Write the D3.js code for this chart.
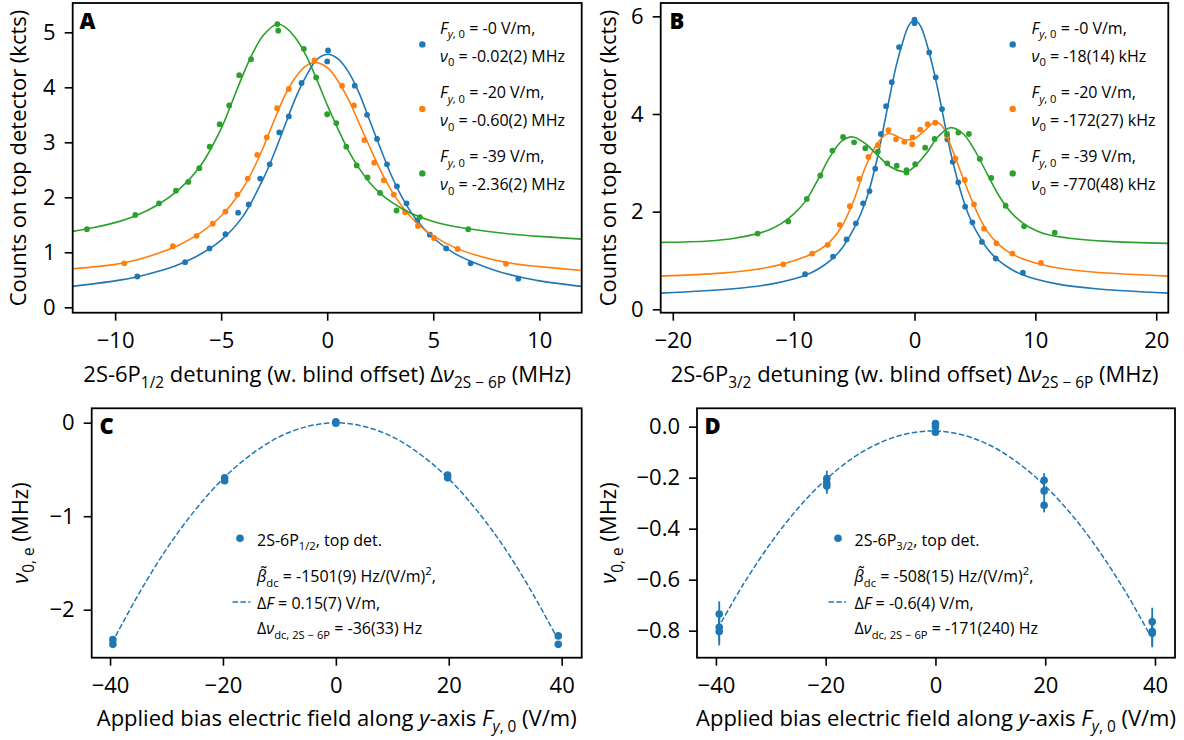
<!DOCTYPE html>
<html>
<head>
<meta charset="utf-8">
<script src="https://cdn.jsdelivr.net/npm/d3@7"></script>
<style>
  html, body { margin: 0; padding: 0; background: #fff; }
  svg text { font-family: "Open Sans", "Noto Sans", sans-serif; fill: #000; }
</style>
</head>
<body>
<svg id="fig" width="1184" height="740"></svg>
<script>
// ---------------- data ----------------
// Panel A: 2S-6P1/2 line scans (detuning in MHz, counts in kcts) at three bias fields
const scanA0X  = [-8.95, -6.70, -5.55, -4.80, -4.20, -3.70, -3.16, -2.71, -2.26, -1.81, -1.21, 0.00, 0.04, 1.30, 1.88, 2.35, 2.82, 3.29, 3.74, 4.25, 4.84, 5.61, 6.76, 9.01];
const scanA0Y  = [0.56, 0.82, 1.07, 1.33, 1.72, 1.87, 2.34, 2.60, 3.18, 3.47, 4.08, 4.47, 4.67, 4.03, 3.50, 3.06, 2.60, 2.20, 1.89, 1.58, 1.32, 1.07, 0.80, 0.52];
const scanA20X = [-9.57, -7.28, -6.16, -5.40, -4.80, -4.24, -3.75, -3.30, -2.85, -2.36, -1.81, -0.60, 0.70, 1.26, 1.75, 2.22, 2.67, 3.14, 3.67, 4.28, 5.04, 6.15, 8.43];
const scanA20Y = [0.80, 1.11, 1.30, 1.52, 1.74, 2.05, 2.34, 2.77, 3.09, 3.62, 3.97, 4.49, 4.03, 3.67, 3.04, 2.63, 2.31, 2.05, 1.73, 1.48, 1.26, 1.06, 0.79];
const scanA39X = [-11.33, -9.05, -7.93, -7.13, -6.55, -6.03, -5.54, -5.07, -4.62, -4.15, -3.59, -2.35, -2.31, -1.10, -0.52, 0.00, 0.43, 0.90, 1.39, 1.90, 2.49, 3.27, 4.37, 6.65];
const scanA39Y = [1.42, 1.68, 1.89, 2.12, 2.28, 2.53, 2.92, 3.33, 3.67, 4.22, 4.51, 5.15, 5.03, 4.70, 4.18, 3.51, 3.35, 2.92, 2.58, 2.36, 2.08, 1.76, 1.64, 1.42];

// Panel A: fitted line shapes
const fitA0X  = [-12, -10, -9, -8, -7, -6, -5, -4, -3, -2.5, -2, -1.5, -1, -0.5, 0, 0.5, 1, 1.5, 2, 2.5, 3, 3.5, 4, 4.5, 5, 6, 7, 8, 9, 10, 12];
const fitA0Y  = [0.38, 0.48, 0.55, 0.65, 0.78, 0.96, 1.22, 1.64, 2.35, 2.80, 3.30, 3.80, 4.20, 4.50, 4.60, 4.52, 4.28, 3.90, 3.40, 2.90, 2.42, 2.02, 1.70, 1.46, 1.26, 0.98, 0.80, 0.66, 0.56, 0.48, 0.38];
const fitA20X = [-12, -10, -9, -8, -7, -6, -5, -4, -3.5, -3, -2.5, -2, -1.5, -1, -0.6, 0, 0.5, 1, 1.5, 2, 2.5, 3, 3.5, 4, 4.5, 5, 6, 7, 8, 9, 10, 12];
const fitA20Y = [0.70, 0.78, 0.86, 0.98, 1.13, 1.35, 1.66, 2.15, 2.50, 2.92, 3.40, 3.85, 4.18, 4.39, 4.45, 4.36, 4.12, 3.78, 3.35, 2.92, 2.50, 2.14, 1.85, 1.62, 1.44, 1.30, 1.09, 0.95, 0.85, 0.78, 0.74, 0.67];
const fitA39X = [-12, -11, -10, -9, -8, -7, -6, -5, -4.5, -4, -3.5, -3, -2.35, -2, -1.5, -1, -0.5, 0, 0.5, 1, 1.5, 2, 2.5, 3, 3.5, 4, 5, 6, 7, 8, 9, 10, 12];
const fitA39Y = [1.38, 1.45, 1.54, 1.67, 1.86, 2.14, 2.56, 3.25, 3.72, 4.20, 4.63, 4.95, 5.15, 5.10, 4.90, 4.58, 4.15, 3.68, 3.25, 2.85, 2.53, 2.27, 2.07, 1.92, 1.80, 1.70, 1.56, 1.47, 1.41, 1.36, 1.32, 1.29, 1.24];

// Panel B: 2S-6P3/2 line scans
const scanB0X  = [-9.05, -6.74, -5.62, -4.85, -4.25, -3.72, -3.25, -2.78, -2.35, -1.88, -1.28, 0.00, 0.00, 1.22, 1.75, 2.28, 2.72, 3.16, 3.63, 4.19, 4.79, 5.58, 6.72, 8.97];
const scanB0Y  = [0.72, 1.08, 1.43, 1.76, 2.17, 2.42, 2.88, 3.59, 4.16, 4.65, 5.37, 5.93, 5.86, 5.26, 4.75, 4.10, 3.48, 3.02, 2.60, 2.10, 1.78, 1.38, 1.04, 0.75];
const scanB20X = [-10.86, -8.47, -7.18, -6.18, -5.35, -4.57, -3.82, -3.03, -2.16, -1.53, -0.84, -0.19, -0.16, 0.47, 1.09, 1.72, 2.70, 3.38, 4.16, 4.92, 5.75, 6.78, 8.10, 10.46];
const scanB20Y = [0.92, 1.14, 1.32, 1.73, 2.11, 2.67, 3.12, 3.36, 3.67, 3.48, 3.43, 3.38, 3.52, 3.68, 3.79, 3.82, 3.55, 3.09, 2.65, 2.15, 1.65, 1.35, 1.14, 0.95];
const scanB39X = [-12.98, -10.45, -8.91, -7.79, -6.79, -5.91, -5.00, -4.07, -3.03, -2.25, -1.47, -0.66, -0.66, 0.06, 0.88, 1.66, 2.69, 3.63, 4.50, 5.41, 6.35, 7.54, 9.07, 11.60];
const scanB39Y = [1.55, 1.80, 2.26, 2.74, 3.25, 3.53, 3.42, 3.30, 3.23, 2.99, 2.94, 2.80, 2.85, 2.97, 3.31, 3.49, 3.59, 3.62, 3.59, 3.08, 2.69, 2.12, 1.70, 1.57];

// Panel B: fitted line shapes
const fitB0X  = [-21, -15, -12, -10, -9, -8, -7, -6, -5, -4, -3, -2.5, -2, -1.5, -1, -0.5, 0, 0.5, 1, 1.5, 2, 2.5, 3, 3.5, 4, 4.5, 5, 6, 7, 8, 9, 10, 12, 15, 21];
const fitB0Y  = [0.33, 0.42, 0.51, 0.62, 0.70, 0.82, 0.99, 1.25, 1.66, 2.24, 3.18, 3.80, 4.42, 5.00, 5.45, 5.80, 5.93, 5.80, 5.45, 4.98, 4.42, 3.80, 3.20, 2.70, 2.27, 1.92, 1.65, 1.25, 0.99, 0.82, 0.70, 0.62, 0.51, 0.42, 0.33];
const fitB20X = [-21, -16, -13, -11, -9, -8, -7, -6, -5, -4, -3, -2.2, -1.5, -0.8, 0, 0.8, 1.7, 2.3, 3, 4, 5, 6, 7, 8, 9, 10, 12, 15, 21];
const fitB20Y = [0.68, 0.74, 0.82, 0.92, 1.08, 1.20, 1.38, 1.70, 2.25, 2.95, 3.42, 3.60, 3.55, 3.47, 3.50, 3.65, 3.83, 3.75, 3.35, 2.70, 2.08, 1.60, 1.32, 1.14, 1.03, 0.95, 0.84, 0.76, 0.68];
const fitB39X = [-21, -17, -15, -13, -12, -11, -10, -9, -8, -7, -6, -5.1, -4, -3, -2, -1, -0.5, 0, 1, 2, 3, 4, 5, 6, 7, 8, 9, 10, 11, 13, 16, 21];
const fitB39Y = [1.37, 1.40, 1.45, 1.55, 1.63, 1.76, 1.95, 2.22, 2.65, 3.12, 3.45, 3.53, 3.38, 3.14, 2.92, 2.82, 2.83, 2.92, 3.20, 3.55, 3.72, 3.60, 3.25, 2.78, 2.32, 1.98, 1.76, 1.62, 1.53, 1.45, 1.39, 1.35];

// Legend values for the line scans
const biasLabels   = ["-0", "-20", "-39"];
const centersA     = ["-0.02(2) MHz", "-0.60(2) MHz", "-2.36(2) MHz"];
const centersB     = ["-18(14) kHz", "-172(27) kHz", "-770(48) kHz"];

// Panel C: fitted line centers vs applied field, 2S-6P1/2
const fieldC = [-39.5, -39.5, -19.7, -19.7, 0.0, 0.0, 19.8, 19.8, 39.4, 39.4];
const shiftC = [-2.32, -2.37, -0.59, -0.62, 0.01, -0.005, -0.56, -0.59, -2.28, -2.37];
const errC   = [0.02, 0.02, 0.015, 0.015, 0.01, 0.01, 0.015, 0.015, 0.02, 0.02];
const fitCX  = [-39, -35, -30, -25, -20, -15, -10, -5, 0, 5, 10, 15, 20, 25, 30, 35, 39];
const fitCY  = [-2.28, -1.84, -1.35, -0.94, -0.60, -0.34, -0.15, -0.04, 0.00, -0.04, -0.15, -0.34, -0.60, -0.94, -1.35, -1.84, -2.28];

// Panel D: fitted line centers vs applied field, 2S-6P3/2
const fieldD = [-39.4, -39.4, -39.4, -19.8, -19.8, -19.8, 0.0, 0.0, 0.0, 19.8, 19.8, 19.8, 39.5, 39.5, 39.5];
const shiftD = [-0.735, -0.787, -0.803, -0.203, -0.222, -0.233, 0.012, 0.000, -0.022, -0.210, -0.252, -0.308, -0.765, -0.803, -0.810];
const errD   = [0.050, 0.055, 0.055, 0.030, 0.030, 0.030, 0.012, 0.012, 0.012, 0.028, 0.028, 0.028, 0.055, 0.055, 0.055];
const fitDX  = [-39, -35, -30, -25, -20, -15, -10, -5, 0, 5, 10, 15, 20, 25, 30, 35, 39];
const fitDY  = [-0.766, -0.618, -0.456, -0.319, -0.208, -0.122, -0.062, -0.027, -0.017, -0.033, -0.074, -0.141, -0.233, -0.350, -0.493, -0.661, -0.814];

// Tick values
const ticksAx = [-10, -5, 0, 5, 10];
const ticksAy = [0, 1, 2, 3, 4, 5];
const ticksBx = [-20, -10, 0, 10, 20];
const ticksBy = [0, 2, 4, 6];
const ticksCx = [-40, -20, 0, 20, 40];
const ticksCy = [0, -1, -2];
const ticksDx = [-40, -20, 0, 20, 40];
const ticksDy = [0, -0.2, -0.4, -0.6, -0.8];

// ---------------- layout & style ----------------
const colors = ["#1f77b4", "#ff7f0e", "#2ca02c"];
const TICK_FS = 22, LABEL_FS = 22, LEG_FS = 16;

const layout = {
  A: { x: [72.7, 581.7],  y: [312.7, 3],     xd: [-12, 12],       yd: [-0.098, 5.533] },
  B: { x: [660.7, 1168.3], y: [312.7, 3],    xd: [-21, 21],       yd: [-0.07, 6.273] },
  C: { x: [91.7, 581.7],  y: [657.7, 408.3], xd: [-43.25, 43.55], yd: [-2.513, 0.154] },
  D: { x: [697, 1175],    y: [657.7, 408.3], xd: [-43.45, 43.65], yd: [-0.906, 0.072] }
};

const svg = d3.select("#fig");

// text with sub/superscript runs
function richText(parent, x, y, parts, fs, opts = {}) {
  const t = parent.append("text").attr("x", x).attr("y", y).attr("font-size", fs);
  if (opts.anchor) t.attr("text-anchor", opts.anchor);
  if (opts.transform) t.attr("transform", opts.transform);
  let shift = 0;
  for (const p of parts) {
    const target = p.sub ? fs * 0.3 : p.sup ? -fs * 0.42 : 0;
    const ts = t.append("tspan").attr("dy", (target - shift).toFixed(2)).text(p.t);
    shift = target;
    if (p.sub || p.sup) ts.attr("font-size", (fs * 0.7).toFixed(2));
    if (p.it) ts.attr("font-style", "italic");
  }
  return t;
}

function makePanel(key, xticks, yticks, yfmt) {
  const L = layout[key];
  const x = d3.scaleLinear().domain(L.xd).range(L.x);
  const y = d3.scaleLinear().domain(L.yd).range(L.y);
  const g = svg.append("g");
  const clipId = "clip" + key;
  svg.append("clipPath").attr("id", clipId).append("rect")
    .attr("x", L.x[0]).attr("y", L.y[1]).attr("width", L.x[1] - L.x[0]).attr("height", L.y[0] - L.y[1]);

  const xAxis = d3.axisBottom(x).tickValues(xticks).tickSize(8).tickSizeOuter(0).tickPadding(12)
    .tickFormat(d3.format("d"));
  const yAxis = d3.axisLeft(y).tickValues(yticks).tickSize(8).tickSizeOuter(0).tickPadding(9)
    .tickFormat(yfmt);
  const gx = g.append("g").attr("transform", `translate(0,${L.y[0]})`).call(xAxis);
  const gy = g.append("g").attr("transform", `translate(${L.x[0]},0)`).call(yAxis);
  [gx, gy].forEach(a => {
    a.select(".domain").remove();
    a.selectAll(".tick line").attr("stroke", "#000").attr("stroke-width", 1.6);
    a.selectAll(".tick text").attr("font-size", TICK_FS).attr("fill", "#000")
      .style("font-family", '"Open Sans", "Noto Sans", sans-serif');
  });
  const plot = g.append("g");
  const frame = () => g.append("rect")
    .attr("x", L.x[0]).attr("y", L.y[1]).attr("width", L.x[1] - L.x[0]).attr("height", L.y[0] - L.y[1])
    .attr("fill", "none").attr("stroke", "#000").attr("stroke-width", 1.8);
  return { x, y, g, plot, clipId, frame, L };
}

function drawScan(P, xs, ys, fx, fy, color) {
  const line = d3.line().x(d => P.x(d[0])).y(d => P.y(d[1])).curve(d3.curveCatmullRom.alpha(0.5));
  P.plot.append("path").datum(d3.zip(fx, fy)).attr("d", line)
    .attr("fill", "none").attr("stroke", color).attr("stroke-width", 1.6)
    .attr("clip-path", `url(#${P.clipId})`);
  P.plot.append("g").selectAll("circle").data(d3.zip(xs, ys)).join("circle")
    .attr("cx", d => P.x(d[0])).attr("cy", d => P.y(d[1])).attr("r", 2.9).attr("fill", color);
}

function drawShift(P, xs, ys, es, fx, fy, color) {
  const line = d3.line().x(d => P.x(d[0])).y(d => P.y(d[1])).curve(d3.curveCatmullRom.alpha(0.5));
  P.plot.append("path").datum(d3.zip(fx, fy)).attr("d", line)
    .attr("fill", "none").attr("stroke", color).attr("stroke-width", 1.5)
    .attr("stroke-dasharray", "5.5,2.4").attr("clip-path", `url(#${P.clipId})`);
  const pts = d3.zip(xs, ys, es);
  P.plot.append("g").selectAll("line").data(pts).join("line")
    .attr("x1", d => P.x(d[0])).attr("x2", d => P.x(d[0]))
    .attr("y1", d => P.y(d[1] - d[2])).attr("y2", d => P.y(d[1] + d[2]))
    .attr("stroke", color).attr("stroke-width", 1.8);
  P.plot.append("g").selectAll("circle").data(pts).join("circle")
    .attr("cx", d => P.x(d[0])).attr("cy", d => P.y(d[1])).attr("r", 3.8).attr("fill", color);
}

function panelLetter(txt, x, y) {
  svg.append("text").attr("x", x).attr("y", y).attr("font-size", 22).attr("font-weight", 800).text(txt);
}

function scanLegend(mx, tx, centers) {
  const g = svg.append("g");
  for (let i = 0; i < 3; i++) {
    const yb = 33.5 + 64.2 * i;
    g.append("circle").attr("cx", mx).attr("cy", 44.4 + 64.5 * i).attr("r", 3.2).attr("fill", colors[i]);
    richText(g, tx, yb, [
      { t: "F", it: 1 }, { t: "y", sub: 1, it: 1 }, { t: ", 0", sub: 1 }, { t: " = " + biasLabels[i] + " V/m," }
    ], LEG_FS);
    richText(g, tx, yb + 28, [
      { t: "ν", it: 1 }, { t: "0", sub: 1 }, { t: " = " + centers[i] }
    ], LEG_FS);
  }
}

function shiftLegend(mx, hx0, hx1, tx, sub, beta, dF, dnu) {
  const g = svg.append("g");
  g.append("circle").attr("cx", mx).attr("cy", 538.3).attr("r", 3.8).attr("fill", colors[0]);
  g.append("line").attr("x1", hx0).attr("x2", hx1).attr("y1", 602).attr("y2", 602)
    .attr("stroke", colors[0]).attr("stroke-width", 1.5).attr("stroke-dasharray", "5.5,2.4");
  richText(g, tx, 545.5, [{ t: "2S-6P" }, { t: sub, sub: 1 }, { t: ", top det." }], LEG_FS);
  richText(g, tx, 582, [{ t: "β\u0303", it: 1 }, { t: "dc", sub: 1 }, { t: " = " + beta + " Hz/(V/m)" }, { t: "2", sup: 1 }, { t: "," }], LEG_FS);
  richText(g, tx, 608.5, [{ t: "Δ" }, { t: "F", it: 1 }, { t: " = " + dF + " V/m," }], LEG_FS);
  richText(g, tx, 634, [{ t: "Δ" }, { t: "ν", it: 1 }, { t: "dc, 2S − 6P", sub: 1 }, { t: " = " + dnu + " Hz" }], LEG_FS);
}

// ---------------- Panel A ----------------
const PA = makePanel("A", ticksAx, ticksAy, d3.format("d"));
drawScan(PA, scanA0X, scanA0Y, fitA0X, fitA0Y, colors[0]);
drawScan(PA, scanA20X, scanA20Y, fitA20X, fitA20Y, colors[1]);
drawScan(PA, scanA39X, scanA39Y, fitA39X, fitA39Y, colors[2]);
PA.frame();

// ---------------- Panel B ----------------
const PB = makePanel("B", ticksBx, ticksBy, d3.format("d"));
drawScan(PB, scanB0X, scanB0Y, fitB0X, fitB0Y, colors[0]);
drawScan(PB, scanB20X, scanB20Y, fitB20X, fitB20Y, colors[1]);
drawScan(PB, scanB39X, scanB39Y, fitB39X, fitB39Y, colors[2]);
PB.frame();

// ---------------- Panel C ----------------
const PC = makePanel("C", ticksCx, ticksCy, d3.format("d"));
drawShift(PC, fieldC, shiftC, errC, fitCX, fitCY, colors[0]);
PC.frame();

// ---------------- Panel D ----------------
const PD = makePanel("D", ticksDx, ticksDy, d3.format(".1f"));
drawShift(PD, fieldD, shiftD, errD, fitDX, fitDY, colors[0]);
PD.frame();

// ---------------- labels ----------------
panelLetter("A", 79.5, 29);
panelLetter("B", 669.5, 29);
panelLetter("C", 99.5, 434);
panelLetter("D", 704.5, 434);

const countsLabel = [{ t: "Counts on top detector (kcts)" }];
richText(svg, 0, 0, countsLabel, LABEL_FS, { anchor: "middle", transform: "translate(25.5,158) rotate(-90)" });
richText(svg, 0, 0, countsLabel, LABEL_FS, { anchor: "middle", transform: "translate(615.5,158) rotate(-90)" });

const shiftLabel = [{ t: "ν", it: 1 }, { t: "0, e", sub: 1 }, { t: " (MHz)" }];
richText(svg, 0, 0, shiftLabel, LABEL_FS, { anchor: "middle", transform: "translate(27.5,533) rotate(-90)" });
richText(svg, 0, 0, shiftLabel, LABEL_FS, { anchor: "middle", transform: "translate(616,533) rotate(-90)" });

const detuning = s => [{ t: "2S-6P" }, { t: s, sub: 1 }, { t: " detuning (w. blind offset) Δ" }, { t: "ν", it: 1 }, { t: "2S − 6P", sub: 1 }, { t: " (MHz)" }];
richText(svg, 327.2, 381.7, detuning("1/2"), LABEL_FS, { anchor: "middle" });
richText(svg, 914.5, 381.7, detuning("3/2"), LABEL_FS, { anchor: "middle" });

const fieldLabel = [{ t: "Applied bias electric field along " }, { t: "y", it: 1 }, { t: "-axis " }, { t: "F", it: 1 }, { t: "y", sub: 1, it: 1 }, { t: ", 0", sub: 1 }, { t: " (V/m)" }];
richText(svg, 336.7, 725.7, fieldLabel, LABEL_FS, { anchor: "middle" });
richText(svg, 936, 725.7, fieldLabel, LABEL_FS, { anchor: "middle" });

// ---------------- legends ----------------
scanLegend(422.3, 440, centersA);
scanLegend(1012.7, 1031.5, centersB);
shiftLegend(240, 232.5, 250.5, 257, "1/2", "-1501(9)", "0.15(7)", "-36(33)");
shiftLegend(838, 828.5, 846, 854.5, "3/2", "-508(15)", "-0.6(4)", "-171(240)");
</script>
</body>
</html>
